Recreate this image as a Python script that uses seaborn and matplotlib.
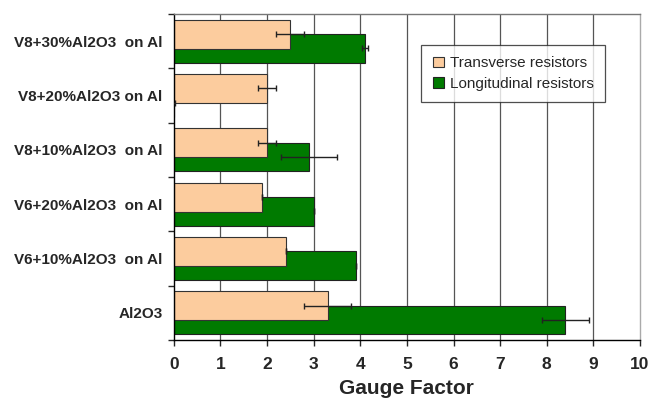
import numpy as np
import pandas as pd
import matplotlib
matplotlib.use('Agg')
import matplotlib.pyplot as plt
import seaborn as sns

# ---- data ----
samples = ['V8+30%Al2O3  on Al', 'V8+20%Al2O3 on Al', 'V8+10%Al2O3  on Al',
           'V6+20%Al2O3  on Al', 'V6+10%Al2O3  on Al', 'Al2O3']
transverse = [2.5, 2.0, 2.0, 1.9, 2.4, 3.3]
transverse_err = [0.3, 0.2, 0.2, 0.0, 0.0, 0.5]
longitudinal = [4.1, 0.0, 2.9, 3.0, 3.9, 8.4]
longitudinal_err = [0.07, 0.03, 0.6, 0.0, 0.0, 0.5]
x_ticks = [0, 1, 2, 3, 4, 5, 6, 7, 8, 9, 10]

col_t = '#FCCC9E'
col_l = '#007A00'

sns.set_style('white')
plt.rcParams['font.family'] = ['Liberation Sans', 'DejaVu Sans']

idx = np.arange(len(samples))
shift = 0.13
df_t = pd.DataFrame({'pos': idx - shift, 'gf': transverse})
df_l = pd.DataFrame({'pos': idx + shift, 'gf': longitudinal})

fig, ax = plt.subplots(figsize=(6.66, 4.01), dpi=100)
fig.subplots_adjust(left=0.261, right=0.961, top=0.965, bottom=0.152)

# grid first, behind bars
for v in x_ticks[1:-1]:
    ax.axvline(v, color='#555555', lw=0.9, zorder=0)

# longitudinal drawn first so transverse overlaps it
sns.barplot(data=df_l, x='gf', y='pos', orient='y', native_scale=True,
            width=0.53, color=col_l, edgecolor='#222222', linewidth=0.8,
            saturation=1, errorbar=None, ax=ax, label='Longitudinal resistors')
sns.barplot(data=df_t, x='gf', y='pos', orient='y', native_scale=True,
            width=0.53, color=col_t, edgecolor='#333333', linewidth=0.8,
            saturation=1, errorbar=None, ax=ax, label='Transverse resistors')

ax.errorbar(longitudinal, idx + shift, xerr=longitudinal_err, fmt='none',
            ecolor='#222222', elinewidth=1, capsize=2.5, zorder=5)
ax.errorbar(transverse, idx - shift, xerr=transverse_err, fmt='none',
            ecolor='#222222', elinewidth=1, capsize=2.5, zorder=5)

ax.set_xlim(0, 10)
ax.set_ylim(len(samples) - 0.5, -0.5)
ax.set_xticks(x_ticks)
ax.set_xticklabels([str(t) for t in x_ticks], fontsize=12.5, fontweight='bold')
ax.set_yticks(idx)
ax.set_yticklabels(samples, fontsize=11, fontweight='bold')
ax.set_yticks(np.arange(len(samples) + 1) - 0.5, minor=True)
ax.tick_params(axis='y', which='major', length=0, pad=8)
ax.tick_params(axis='y', which='minor', length=4, width=1, direction='out', left=True)
ax.tick_params(axis='x', length=4, width=1, direction='out', bottom=True, pad=8)
ax.set_xlabel('Gauge Factor', fontsize=15, fontweight='bold', labelpad=5)
ax.set_ylabel('')

ax.spines['left'].set_color('black')
ax.spines['bottom'].set_color('black')
ax.spines['top'].set_color('#777777')
ax.spines['right'].set_color('#aaaaaa')
for s in ax.spines.values():
    s.set_linewidth(1)

handles, labels = ax.get_legend_handles_labels()
order = [labels.index('Transverse resistors'), labels.index('Longitudinal resistors')]
leg = ax.legend([handles[i] for i in order], [labels[i] for i in order],
                loc='upper right', bbox_to_anchor=(0.925, 0.905), fontsize=11,
                frameon=True, fancybox=False, edgecolor='#222222',
                handlelength=0.7, handleheight=0.7, handletextpad=0.4,
                borderpad=0.75, labelspacing=0.4, borderaxespad=0)
leg.get_frame().set_linewidth(0.9)

plt.savefig('out.png', dpi=100)
